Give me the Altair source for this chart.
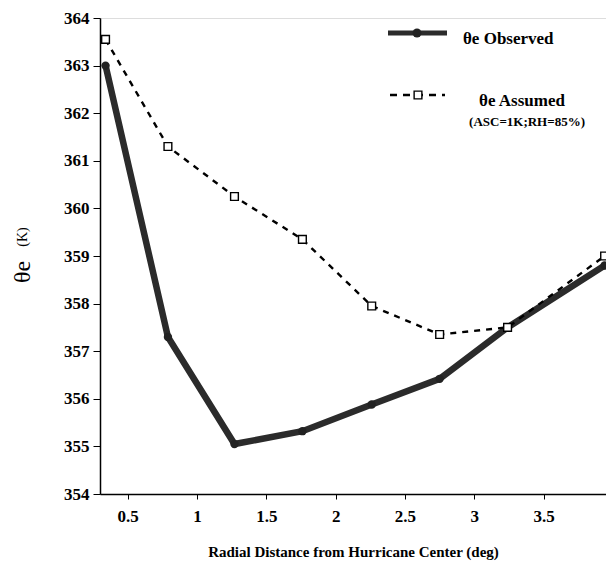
import altair as alt
import pandas as pd

# Data
radius = [0.34, 0.79, 1.27, 1.76, 2.26, 2.75, 3.24, 3.94]
theta_observed = [363.0, 357.3, 355.05, 355.32, 355.88, 356.42, 357.5, 358.8]
theta_assumed = [363.55, 361.3, 360.25, 359.35, 357.95, 357.35, 357.5, 359.0]
x_ticks = [0.5, 1, 1.5, 2, 2.5, 3, 3.5]
y_ticks = [354, 355, 356, 357, 358, 359, 360, 361, 362, 363, 364]

df = pd.DataFrame({"r": radius, "obs": theta_observed, "asm": theta_assumed})

FONT = "Liberation Serif"
W, H = 506, 476

x_enc = alt.X("r:Q", scale=alt.Scale(domain=[0.3, 3.95], nice=False, zero=False),
              axis=alt.Axis(values=x_ticks, title="Radial Distance from Hurricane Center (deg)",
                            labelFont=FONT, labelFontWeight="bold", labelFontSize=17,
                            labelColor="black", titleFont=FONT, titleFontWeight="bold",
                            titleFontSize=15, titleColor="black", titlePadding=20,
                            tickSize=5, tickColor="black", domainColor="black",
                            domainWidth=1.5, labelPadding=9, grid=False,
                            labelExpr="datum.value"))
y_scale = alt.Scale(domain=[354, 364], nice=False, zero=False)
y_axis = alt.Axis(values=y_ticks, title=None, labelFont=FONT, labelFontWeight="bold",
                  labelFontSize=17, labelColor="black", tickSize=7, tickColor="black",
                  domainColor="black", domainWidth=1.5, labelPadding=4, grid=False,
                  format="d")

base = alt.Chart(df)

obs_line = base.mark_line(color="#2b2b2b", strokeWidth=6.5).encode(
    x=x_enc, y=alt.Y("obs:Q", scale=y_scale, axis=y_axis))
obs_pts = base.mark_circle(color="#222222", size=70, opacity=1).encode(
    x="r:Q", y=alt.Y("obs:Q", scale=y_scale))
asm_line = base.mark_line(color="black", strokeWidth=2.4, strokeDash=[6, 6]).encode(
    x="r:Q", y=alt.Y("asm:Q", scale=y_scale))
asm_pts = base.mark_point(shape="square", size=60, fill="white", stroke="black",
                          strokeWidth=1.4, filled=True, opacity=1).encode(
    x="r:Q", y=alt.Y("asm:Q", scale=y_scale))

# Legend (drawn manually)
leg = pd.DataFrame({"a": [0]})
lb = alt.Chart(leg)
leg_obs_line = lb.mark_rule(color="#2b2b2b", strokeWidth=5).encode(
    x=alt.value(288), x2=alt.value(347), y=alt.value(15))
leg_obs_pt = lb.mark_circle(color="#222222", size=80, opacity=1).encode(
    x=alt.value(317), y=alt.value(15))
leg_obs_txt = lb.mark_text(text="θe Observed", font=FONT, fontWeight="bold", fontSize=17,
                           align="left", baseline="middle", color="black").encode(
    x=alt.value(363), y=alt.value(21))
leg_asm_line = lb.mark_rule(color="black", strokeWidth=2.4, strokeDash=[7, 6]).encode(
    x=alt.value(290), x2=alt.value(345), y=alt.value(77))
leg_asm_pt = lb.mark_point(shape="square", size=60, fill="white", stroke="black",
                           strokeWidth=1.4, filled=True, opacity=1).encode(
    x=alt.value(318), y=alt.value(77))
leg_asm_txt = lb.mark_text(text="θe Assumed", font=FONT, fontWeight="bold", fontSize=17,
                           align="center", baseline="middle", color="black").encode(
    x=alt.value(422), y=alt.value(83))
leg_asm_txt2 = lb.mark_text(text="(ASC=1K;RH=85%)", font=FONT, fontWeight="bold", fontSize=13,
                            align="center", baseline="middle", color="black").encode(
    x=alt.value(427), y=alt.value(104))

# Y axis title with mixed sizes
ytitle1 = lb.mark_text(text="θe", font=FONT, fontSize=24, align="center",
                       baseline="middle", color="black").encode(
    x=alt.value(-77), y=alt.value(254), angle=alt.value(270))
ytitle2 = lb.mark_text(text="(K)", font=FONT, fontSize=14, align="center",
                       baseline="middle", color="black").encode(
    x=alt.value(-77), y=alt.value(219), angle=alt.value(270))

chart = alt.layer(
    obs_line, obs_pts, asm_line, asm_pts,
    leg_obs_line, leg_obs_pt, leg_obs_txt,
    leg_asm_line, leg_asm_pt, leg_asm_txt, leg_asm_txt2,
    ytitle1, ytitle2,
).properties(
    width=W, height=H,
    autosize=alt.AutoSizeParams(type="none"),
    padding={"left": 100, "top": 18, "right": 0, "bottom": 71},
).configure_view(
    stroke="black", strokeWidth=1.5
).configure(background="white")

chart.save("out.html", embed_options={"renderer": "svg", "actions": False})
